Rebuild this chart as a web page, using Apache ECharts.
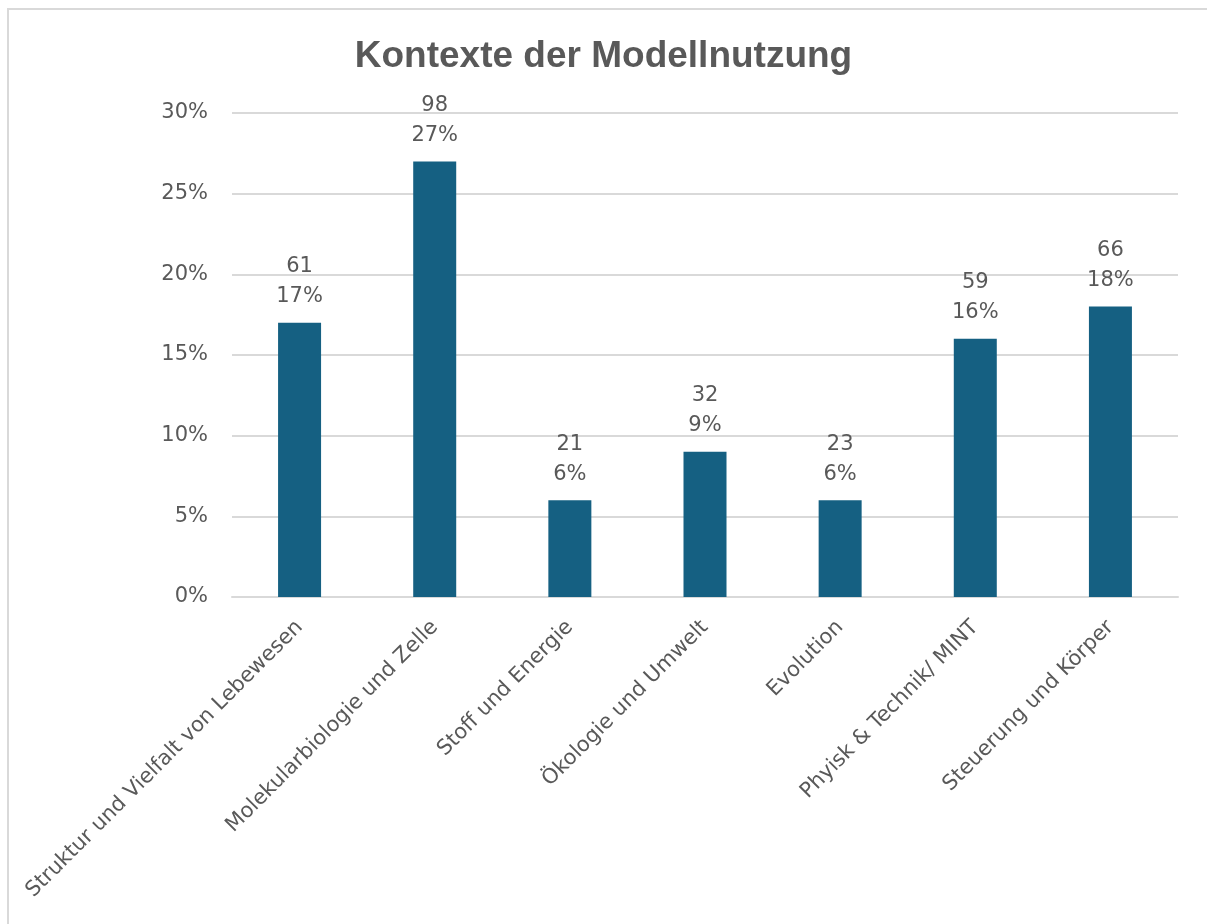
<!DOCTYPE html>
<html lang="de">
<head>
    <meta charset="UTF-8">
    <title>Kontexte der Modellnutzung</title>
    <style>
        * {
            margin: 0;
            padding: 0;
            box-sizing: border-box;
        }

        html, body {
            width: 1207px;
            height: 924px;
            background: #ffffff;
            overflow: hidden;
        }

        #chart {
            width: 1207px;
            height: 924px;
        }
    </style>
    <script src="https://cdn.jsdelivr.net/npm/echarts@6/dist/echarts.min.js"></script>
</head>
<body>
<div id="chart"></div>
<script type="text/javascript">
    var categories = [
        'Struktur und Vielfalt von Lebewesen',
        'Molekularbiologie und Zelle',
        'Stoff und Energie',
        'Ökologie und Umwelt',
        'Evolution',
        'Phyisk & Technik/ MINT',
        'Steuerung und Körper'
    ]
    var counts = [61, 98, 21, 32, 23, 59, 66]
    var percents = [17, 27, 6, 9, 6, 16, 18]
    var yTicks = [0, 5, 10, 15, 20, 25, 30]

    var textColor = '#595959'
    var font = 'DejaVu Sans'

    var myChart = echarts.init(document.getElementById('chart'))
    var option = {
        animation: false,
        textStyle: {
            fontFamily: font
        },
        title: {
            text: 'Kontexte der Modellnutzung',
            left: 'center',
            top: 33,
            textStyle: {
                color: textColor,
                fontSize: 37,
                fontWeight: 'bold',
                fontFamily: 'Liberation Sans'
            }
        },
        graphic: [
            {
                type: 'polyline',
                shape: {points: [[8, 924], [8, 9], [1207, 9]]},
                style: {stroke: '#d9d9d9', lineWidth: 2, fill: null}
            }
        ],
        grid: {
            left: 232,
            right: 29,
            top: 113,
            bottom: 327
        },
        xAxis: {
            type: 'category',
            data: categories,
            axisLine: {
                show: true,
                lineStyle: {color: '#d9d9d9', width: 2}
            },
            axisTick: {show: false},
            axisLabel: {
                rotate: 45,
                interval: 0,
                margin: 27,
                color: textColor,
                fontSize: 21,
                fontFamily: font
            }
        },
        yAxis: {
            type: 'value',
            min: yTicks[0],
            max: yTicks[yTicks.length - 1],
            interval: 5,
            axisLine: {show: false},
            axisTick: {show: false},
            splitLine: {
                lineStyle: {color: '#d9d9d9', width: 2}
            },
            axisLabel: {
                margin: 24,
                color: textColor,
                fontSize: 21,
                fontFamily: font,
                formatter: '{value}%'
            }
        },
        series: [
            {
                type: 'bar',
                data: percents,
                barWidth: 43,
                itemStyle: {color: '#156082'},
                label: {
                    show: true,
                    position: 'top',
                    distance: 11,
                    color: textColor,
                    fontSize: 21,
                    lineHeight: 30,
                    fontFamily: font,
                    formatter: function (p) {
                        return counts[p.dataIndex] + '\n' + p.value + '%'
                    }
                }
            }
        ]
    }
    myChart.setOption(option)
</script>
</body>
</html>
